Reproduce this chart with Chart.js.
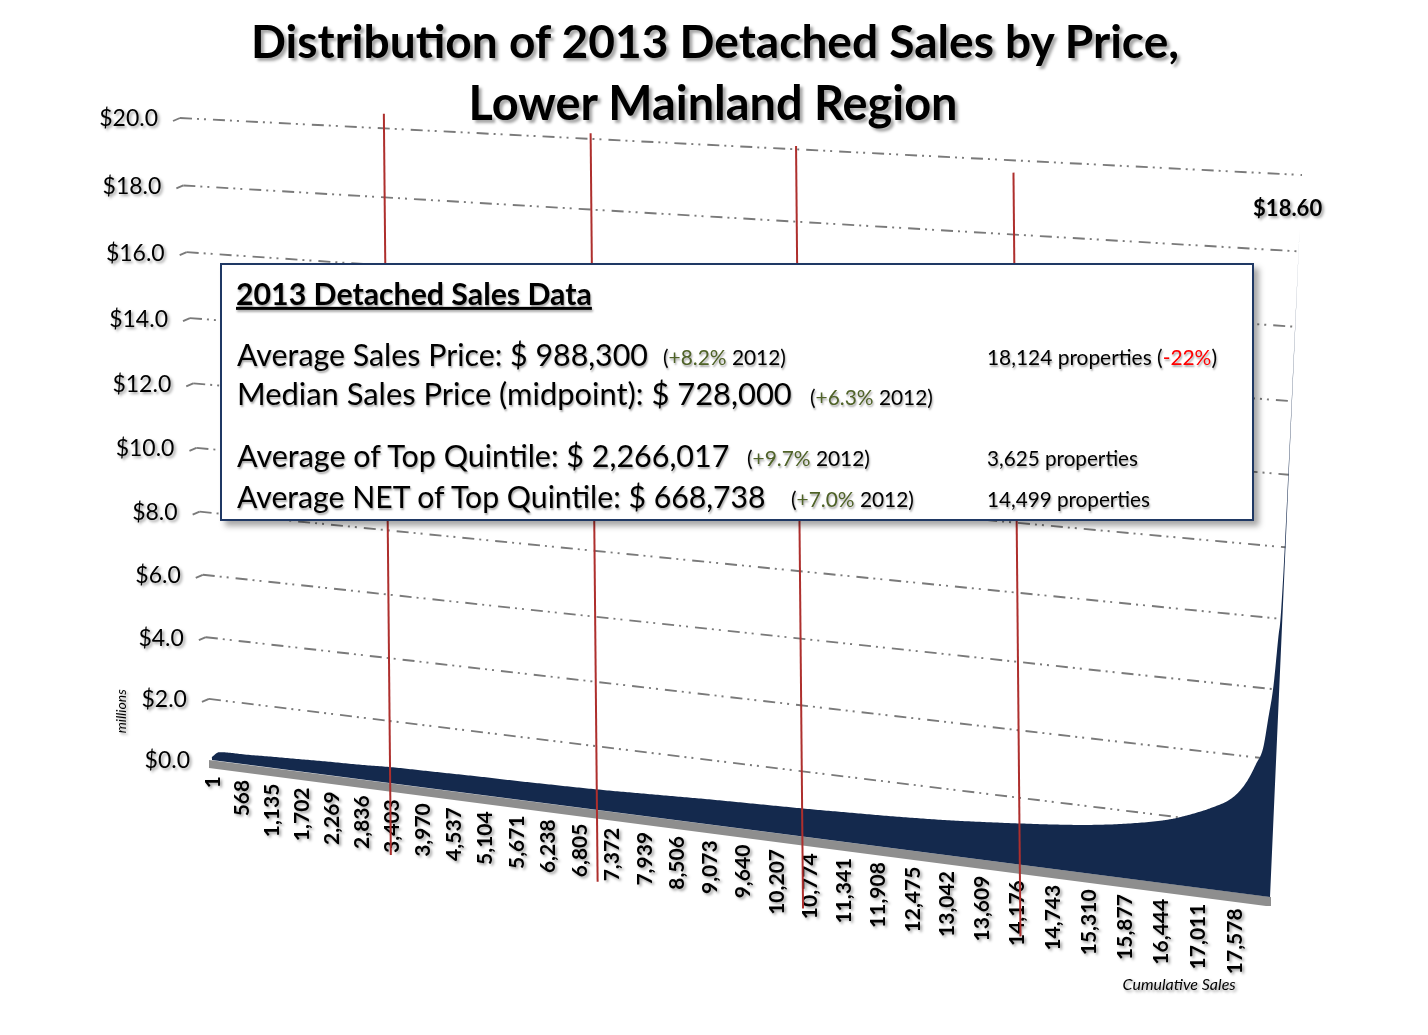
<!DOCTYPE html>
<html><head><meta charset="utf-8">
<script src="https://cdn.jsdelivr.net/npm/chart.js@4.4.1/dist/chart.umd.min.js"></script>
<style>
html,body{margin:0;padding:0;background:#fff;}
#wrap{position:relative;width:1428px;height:1035px;overflow:hidden;font-family:Lato,'Open Sans',sans-serif;}
#c{position:absolute;left:0;top:0;}
.t{position:absolute;white-space:nowrap;line-height:1;color:#000;text-shadow:1px 2px 2px rgba(0,0,0,0.35);}
.ttl{font-weight:700;text-shadow:3px 3px 3px rgba(0,0,0,0.35);}
#box{position:absolute;left:220px;top:263px;width:1030px;height:254px;border:2px solid #1F3864;background:#fff;box-shadow:5px 5px 6px rgba(0,0,0,0.35);}
.g{color:#4F6228;} .r{color:#FF0000;}
</style></head>
<body><div id="wrap">
<canvas id="c" width="1428" height="1035"></canvas>
<div class="t ttl" data-w="930" data-b="1" data-cx="715" data-cy="41">Distribution of 2013 Detached Sales by Price,</div>
<div class="t ttl" data-w="490" data-b="1" data-cx="713" data-cy="102">Lower Mainland Region</div>
<div id="box"></div>
<div class="t" data-w="356" data-b="1" data-x="236" data-cy="293" style="text-decoration:underline;font-weight:700">2013 Detached Sales Data</div>
<div class="t" data-w="411" data-x="237" data-cy="354">Average Sales Price: $ 988,300</div>
<div class="t" data-w="123" data-x="663" data-cy="357">(<span class="g">+8.2%</span> 2012)</div>
<div class="t" data-w="230" data-x="987" data-cy="357">18,124 properties (<span class="r">-22%</span>)</div>
<div class="t" data-w="555" data-x="237" data-cy="394">Median Sales Price (midpoint): $ 728,000</div>
<div class="t" data-w="123" data-x="810" data-cy="397">(<span class="g">+6.3%</span> 2012)</div>
<div class="t" data-w="494" data-x="237" data-cy="455">Average of Top Quintile: $ 2,266,017</div>
<div class="t" data-w="123" data-x="747" data-cy="458">(<span class="g">+9.7%</span> 2012)</div>
<div class="t" data-w="151" data-x="987" data-cy="458">3,625 properties</div>
<div class="t" data-w="531" data-x="237" data-cy="496">Average NET of Top Quintile: $ 668,738</div>
<div class="t" data-w="123" data-x="791" data-cy="499">(<span class="g">+7.0%</span> 2012)</div>
<div class="t" data-w="163" data-x="987" data-cy="499">14,499 properties</div>
</div>
<script>
// ---------- data ----------
const salesPosition = [1, 150, 568, 1135, 1702, 2269, 2836, 3403, 3970, 4537, 5104, 5671, 6238, 6805, 7372, 7939, 8506, 9073, 9640, 10207, 10774, 11341, 11908, 12475, 13042, 13609, 14176, 14743, 15310, 15877, 16444, 16655, 17011, 17148, 17506, 17693, 17832, 17927, 17982, 18037, 18078, 18110, 18118, 18124];
const priceMillions = [0.10, 0.29, 0.32, 0.36, 0.40, 0.44, 0.47, 0.52, 0.54, 0.56, 0.58, 0.59, 0.61, 0.63, 0.66, 0.70, 0.74, 0.78, 0.81, 0.84, 0.87, 0.91, 0.95, 1.00, 1.06, 1.14, 1.23, 1.33, 1.45, 1.62, 1.85, 1.97, 2.24, 2.36, 2.78, 3.25, 3.83, 4.33, 5.18, 6.1, 7.5, 9.3, 12.5, 18.6];
const xTickLabels = [1, 568, 1135, 1702, 2269, 2836, 3403, 3970, 4537, 5104, 5671, 6238, 6805, 7372, 7939, 8506, 9073, 9640, 10207, 10774, 11341, 11908, 12475, 13042, 13609, 14176, 14743, 15310, 15877, 16444, 17011, 17578];
const yTickValues = [0, 2, 4, 6, 8, 10, 12, 14, 16, 18, 20];
const quintileMarks = [3370, 7110, 10650, 14220];
const quintileMarkTop = [20.4, 20.15, 20.1, 19.7];
const peakLabel = '$18.60';
const totalSales = 18124;

// ---------- layout / style ----------
const STYLE = {
  quad: [[180,118],[1302,175],[1270,897],[212,760]], // TL, TR, BR, BL of the tilted plot wall
  navy: '#14294D', floor: '#8E8E8E', grid: '#7A7A7A', red: '#AE2F2D',
  markDrop: 72
};

function makeH(q){
  const [x0,y0]=q[0],[x1,y1]=q[1],[x2,y2]=q[2],[x3,y3]=q[3];
  const dx1=x1-x2, dx2=x3-x2, dx3=x0-x1+x2-x3;
  const dy1=y1-y2, dy2=y3-y2, dy3=y0-y1+y2-y3;
  const den=dx1*dy2-dx2*dy1;
  const g=(dx3*dy2-dx2*dy3)/den, h=(dx1*dy3-dx3*dy1)/den;
  const a=x1-x0+g*x1, b=x3-x0+h*x3, c=x0;
  const d=y1-y0+g*y1, e=y3-y0+h*y3, f=y0;
  return (u,v)=>{const w=g*u+h*v+1;return {x:(a*u+b*v+c)/w,y:(d*u+e*v+f)/w};};
}
const H = makeH(STYLE.quad);

function projPx(chart, px, py){
  const ca=chart.chartArea;
  return H((px-ca.left)/(ca.right-ca.left),(py-ca.top)/(ca.bottom-ca.top));
}
function proj(chart, xv, yv){
  return projPx(chart, chart.scales.x.getPixelForValue(xv), chart.scales.y.getPixelForValue(yv));
}
function shadowOn(ctx,o){ctx.shadowColor='rgba(0,0,0,0.38)';ctx.shadowOffsetX=o;ctx.shadowOffsetY=o;ctx.shadowBlur=3;}
function shadowOff(ctx){ctx.shadowColor='rgba(0,0,0,0)';ctx.shadowBlur=0;ctx.shadowOffsetX=0;ctx.shadowOffsetY=0;}
const DASH=[12,5,2,5,2,7];

const perspectivePlugin = {
  id:'perspective',
  beforeDatasetsDraw(chart){
    const ctx=chart.ctx;
    ctx.save();
    ctx.strokeStyle=STYLE.grid; ctx.lineWidth=1.9;
    yTickValues.forEach(v=>{
      if(v===0) return;
      const a=proj(chart,1,v), b=proj(chart,totalSales,v);
      ctx.setLineDash(DASH);
      ctx.beginPath(); ctx.moveTo(a.x,a.y); ctx.lineTo(b.x,b.y); ctx.stroke();
      ctx.setLineDash([]);
      ctx.beginPath(); ctx.moveTo(a.x-7,a.y+3); ctx.lineTo(a.x,a.y); ctx.stroke();
    });
    ctx.restore();
  },
  afterDatasetsDraw(chart){
    const ctx=chart.ctx, meta=chart.getDatasetMeta(0);
    const line=meta.dataset;
    if(line && line.updateControlPoints) line.updateControlPoints(chart.chartArea,'x');
    ctx.save();
    // floor slab
    const f0=proj(chart,1,0), f1=proj(chart,totalSales,0);
    ctx.fillStyle=STYLE.floor;
    ctx.beginPath();
    ctx.moveTo(f0.x-3,f0.y); ctx.lineTo(f1.x+1,f1.y); ctx.lineTo(f1.x+1,f1.y+9); ctx.lineTo(f1.x-4,f1.y+9);
    ctx.lineTo(f0.x-3,f0.y+8); ctx.closePath(); ctx.fill();
    // area: library's monotone bezier, sampled and projected
    const pts=meta.data;
    ctx.fillStyle=STYLE.navy;
    ctx.beginPath();
    let s=projPx(chart,pts[0].x,pts[0].y); ctx.moveTo(s.x,s.y);
    for(let i=0;i<pts.length-1;i++){
      const p0=pts[i], p1=pts[i+1];
      const hasCp=isFinite(p0.cp2x)&&isFinite(p1.cp1x);
      const N=hasCp?16:1;
      for(let k=1;k<=N;k++){
        const t=k/N, mt=1-t;
        let x,y;
        if(hasCp){
          x=mt*mt*mt*p0.x+3*mt*mt*t*p0.cp2x+3*mt*t*t*p1.cp1x+t*t*t*p1.x;
          y=mt*mt*mt*p0.y+3*mt*mt*t*p0.cp2y+3*mt*t*t*p1.cp1y+t*t*t*p1.y;
        } else {x=p1.x;y=p1.y;}
        const q=projPx(chart,x,y); ctx.lineTo(q.x,q.y);
      }
    }
    ctx.lineTo(f1.x,f1.y); ctx.lineTo(f0.x,f0.y); ctx.closePath(); ctx.fill();
    // y labels
    shadowOn(ctx,2);
    ctx.fillStyle='#000';
    ctx.font='23px Lato, sans-serif'; ctx.textAlign='right'; ctx.textBaseline='middle';
    yTickValues.forEach(v=>{const p=proj(chart,1,v); ctx.fillText('$'+v.toFixed(1),p.x-22,p.y+1);});
    // x labels
    ctx.font='bold 21px Lato, sans-serif';
    xTickLabels.forEach(t=>{
      const p=proj(chart,t,0);
      ctx.save(); ctx.translate(p.x+1,p.y+16); ctx.rotate(-Math.PI/2);
      ctx.textAlign='right'; ctx.textBaseline='middle';
      ctx.fillText(t.toLocaleString('en-US'),0,0); ctx.restore();
    });
    // peak label
    const pk=proj(chart,totalSales,priceMillions[priceMillions.length-1]);
    ctx.font='bold 22px Lato, sans-serif'; ctx.textAlign='center';
    ctx.fillText(peakLabel,pk.x-12,pk.y-20);
    // axis titles
    ctx.font='italic 14px Lato, sans-serif';
    const m=proj(chart,1,1.5);
    ctx.save(); ctx.translate(m.x-88,m.y-3); ctx.rotate(-Math.PI/2); ctx.textAlign='center'; ctx.fillText('millions',0,0); ctx.restore();
    const cs=proj(chart,xTickLabels[xTickLabels.length-1],0);
    ctx.font='italic 16px Lato, sans-serif'; ctx.textAlign='center';
    ctx.fillText('Cumulative Sales',cs.x-55,cs.y+92);
    shadowOff(ctx);
    // quintile marker lines
    ctx.strokeStyle=STYLE.red; ctx.lineWidth=2;
    quintileMarks.forEach((q,i)=>{
      const b=proj(chart,q,0), t=proj(chart,q,quintileMarkTop[i]);
      ctx.beginPath(); ctx.moveTo(b.x-6,t.y); ctx.lineTo(b.x+1,b.y+STYLE.markDrop); ctx.stroke();
    });
    ctx.restore();
  }
};

new Chart(document.getElementById('c'),{
  type:'line',
  data:{datasets:[{label:'Price',data:salesPosition.map((x,i)=>({x,y:priceMillions[i]})),showLine:false,pointRadius:0,borderWidth:0,fill:false,cubicInterpolationMode:'monotone'}]},
  options:{responsive:false,animation:false,devicePixelRatio:1,events:[],
    layout:{padding:0},
    plugins:{legend:{display:false},tooltip:{enabled:false},title:{display:false}},
    scales:{x:{type:'linear',min:1,max:totalSales,display:false},y:{min:0,max:20,display:false}}},
  plugins:[perspectivePlugin]
});

// fit HTML text to measured widths
const mctx=document.createElement('canvas').getContext('2d');
document.querySelectorAll('.t').forEach(el=>{
  const bold=el.dataset.b?'bold ':'';
  mctx.font=bold+'100px Lato';
  const w=mctx.measureText(el.textContent).width;
  el.style.fontSize=(100*(+el.dataset.w)/w).toFixed(2)+'px';
  if(el.dataset.cx){el.style.left=el.dataset.cx+'px';el.style.top=el.dataset.cy+'px';el.style.transform='translate(-50%,-50%)';}
  else {el.style.left=el.dataset.x+'px';el.style.top=el.dataset.cy+'px';el.style.transform='translateY(-50%)';}
});
</script>
</body></html>
